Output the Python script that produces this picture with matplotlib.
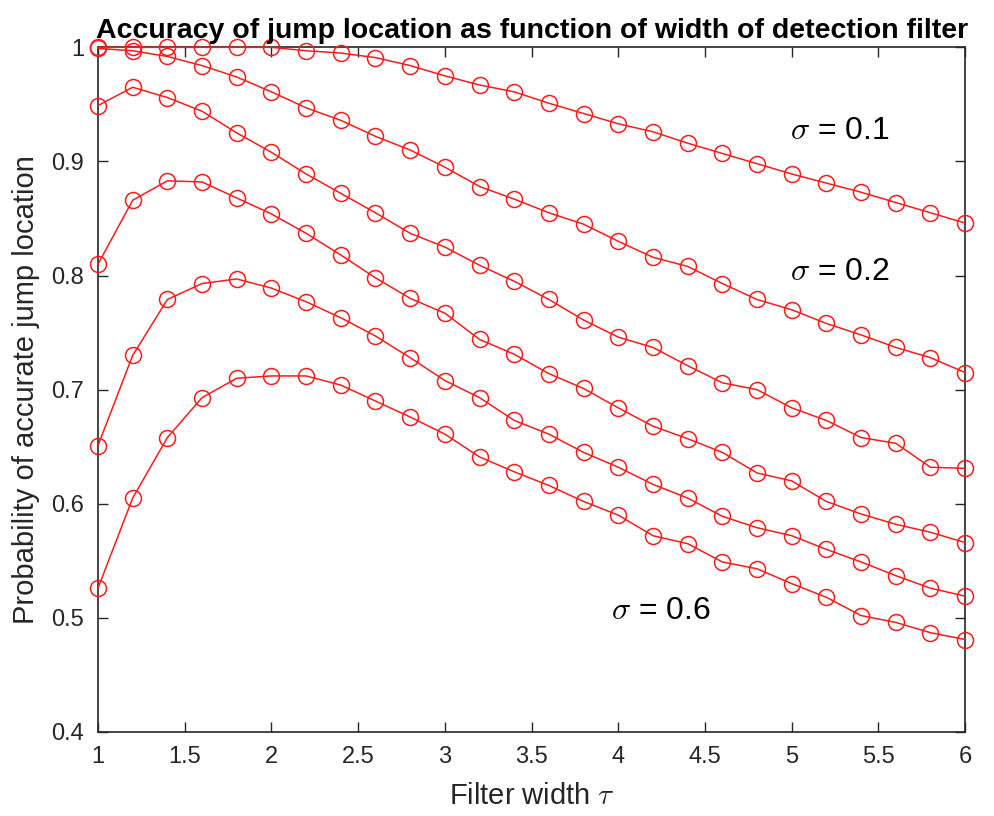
import numpy as np
import matplotlib
matplotlib.use("Agg")
import matplotlib.pyplot as plt

# filter widths tau (1.0 .. 6.0 in 0.2 steps)
tau = [1.0, 1.2, 1.4, 1.6, 1.8, 2.0, 2.2, 2.4, 2.6, 2.8, 3.0, 3.2, 3.4,
       3.6, 3.8, 4.0, 4.2, 4.4, 4.6, 4.8, 5.0, 5.2, 5.4, 5.6, 5.8, 6.0]

# probability of accurate jump location, one list per noise level
p_s1 = [1.0, 1.0, 1.0, 1.0, 1.0, 1.0, 0.997, 0.995, 0.991, 0.984, 0.975, 0.967, 0.961,
        0.951, 0.942, 0.933, 0.926, 0.916, 0.907, 0.898, 0.889, 0.881, 0.873, 0.864, 0.855, 0.846]
p_s2 = [0.999, 0.997, 0.992, 0.984, 0.974, 0.961, 0.947, 0.936, 0.922, 0.910, 0.895, 0.878, 0.867,
        0.855, 0.845, 0.830, 0.816, 0.808, 0.793, 0.779, 0.770, 0.758, 0.748, 0.737, 0.728, 0.715]
p_s3 = [0.949, 0.965, 0.956, 0.944, 0.925, 0.908, 0.889, 0.872, 0.855, 0.837, 0.825, 0.809, 0.795,
        0.779, 0.761, 0.746, 0.737, 0.721, 0.706, 0.700, 0.684, 0.673, 0.658, 0.653, 0.632, 0.631]
p_s4 = [0.810, 0.866, 0.883, 0.882, 0.868, 0.854, 0.837, 0.818, 0.798, 0.780, 0.767, 0.744, 0.731,
        0.714, 0.701, 0.684, 0.668, 0.657, 0.645, 0.627, 0.620, 0.602, 0.591, 0.582, 0.575, 0.566]
p_s5 = [0.651, 0.730, 0.779, 0.793, 0.797, 0.789, 0.777, 0.763, 0.747, 0.728, 0.708, 0.693, 0.673,
        0.661, 0.645, 0.632, 0.617, 0.605, 0.589, 0.579, 0.572, 0.560, 0.549, 0.537, 0.526, 0.519]
p_s6 = [0.526, 0.605, 0.658, 0.693, 0.710, 0.712, 0.712, 0.704, 0.690, 0.676, 0.661, 0.641, 0.628,
        0.616, 0.602, 0.590, 0.572, 0.565, 0.549, 0.543, 0.530, 0.518, 0.502, 0.496, 0.487, 0.481]
series = [p_s1, p_s2, p_s3, p_s4, p_s5, p_s6]

x_ticks = [1, 1.5, 2, 2.5, 3, 3.5, 4, 4.5, 5, 5.5, 6]
x_tick_labels = ["1", "1.5", "2", "2.5", "3", "3.5", "4", "4.5", "5", "5.5", "6"]
y_ticks = [0.4, 0.5, 0.6, 0.7, 0.8, 0.9, 1.0]
y_tick_labels = ["0.4", "0.5", "0.6", "0.7", "0.8", "0.9", "1"]

# curve labels: (text, x, y)
curve_labels = [(r"$\sigma$ = 0.1", 4.99, 0.927),
                (r"$\sigma$ = 0.2", 4.99, 0.803),
                (r"$\sigma$ = 0.6", 3.96, 0.506)]

plt.rcParams["font.family"] = ["Liberation Sans", "DejaVu Sans"]
plt.rcParams["mathtext.fontset"] = "cm"

grey = "#262626"

fig = plt.figure(figsize=(9.95, 8.16), dpi=100)
ax = fig.add_axes([0.0985, 0.103, 0.8715, 0.839])

for p in series:
    ax.plot(tau, p, color="#ff1a1a", linewidth=1.1, marker="o", markersize=11.5,
            markerfacecolor="none", markeredgecolor="#ff1a1a", markeredgewidth=1.1,
            clip_on=False, zorder=3)

for txt, xx, yy in curve_labels:
    ax.text(xx, yy, txt, fontsize=23, color="black", ha="left", va="center")

ax.set_xlim(1, 6)
ax.set_ylim(0.4, 1.0)
ax.set_xticks(x_ticks)
ax.set_xticklabels(x_tick_labels)
ax.set_yticks(y_ticks)
ax.set_yticklabels(y_tick_labels)

ax.tick_params(direction="in", length=7, width=1, colors=grey, labelsize=17,
               top=True, right=True, pad=10)
for sp in ax.spines.values():
    sp.set_color(grey)
    sp.set_linewidth(1.2)

ax.set_xlabel(r"Filter width $\tau$", fontsize=21, color=grey, labelpad=10)
ax.set_ylabel("Probability of accurate jump location", fontsize=21, color=grey, labelpad=8)
ax.set_title("Accuracy of jump location as function of width of detection filter",
             fontsize=20.5, fontweight="bold", color="black", pad=7)

fig.savefig("out.png", dpi=100, facecolor="white")
